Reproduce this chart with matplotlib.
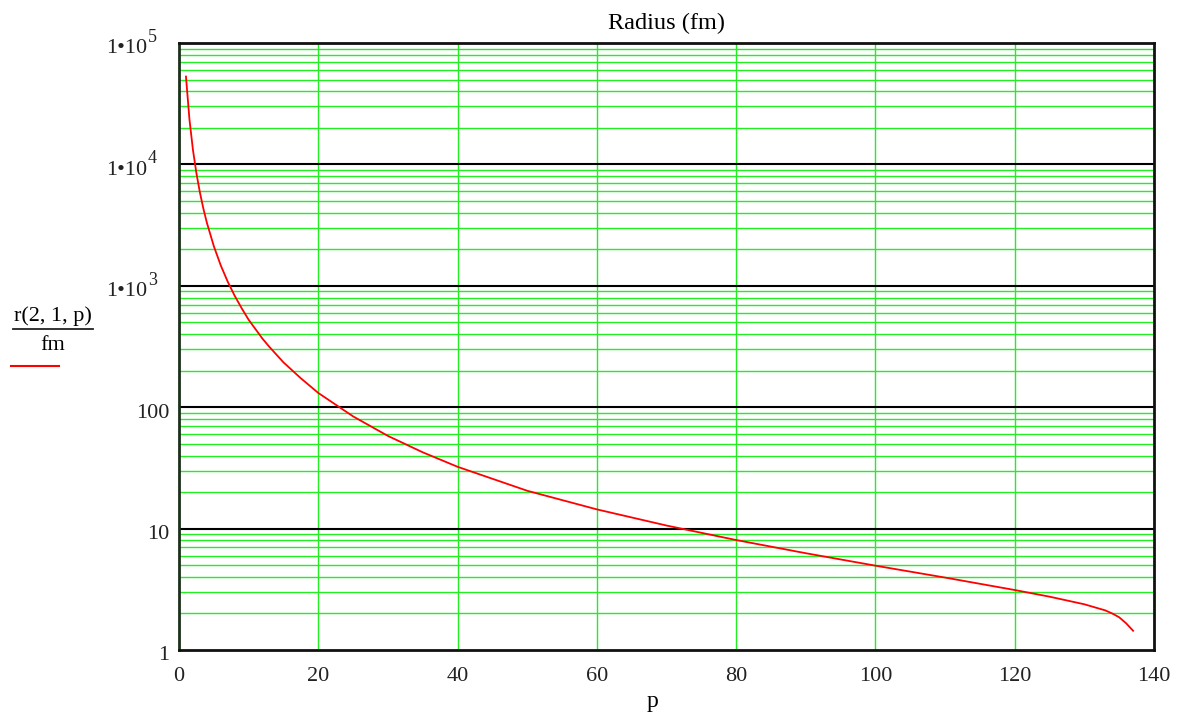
import numpy as np
import matplotlib.pyplot as plt
from matplotlib.ticker import FixedLocator, LogLocator, NullFormatter
from matplotlib.transforms import offset_copy

plt.rcParams['font.family'] = ['Liberation Serif', 'DejaVu Serif']

# values
p = [1, 1.5, 2, 2.5, 3, 3.5, 4, 5, 6, 7, 8, 9, 10, 12, 13, 15, 17.5, 20, 25,
     30, 35, 40, 50, 60, 70, 80, 90, 100, 110, 120, 125, 130, 133, 134,
     135, 136, 137]
r = [52900, 23500, 13200, 8460, 5880, 4320, 3310, 2120, 1470, 1080, 827,
     653, 525, 366, 313, 234, 173, 131, 84, 58, 42.5, 32.3, 20.5, 14.4,
     10.6, 8.05, 6.27, 4.95, 3.95, 3.12, 2.75, 2.38, 2.12, 2.0, 1.86, 1.66,
     1.44]

x_ticks = [0, 20, 40, 60, 80, 100, 120, 140]
y_ticks = [1, 10, 100, 1e3, 1e4, 1e5]
y_base = ['1', '10', '100', '1•10', '1•10', '1•10']
y_exp = ['', '', '', '3', '4', '5']

fig = plt.figure(figsize=(11.89, 7.15), dpi=100)
ax = fig.add_axes([179 / 1189, 1 - 650 / 715, (1154 - 179) / 1189, (650 - 43) / 715])

ax.set_yscale('log')
ax.set_xlim(0, 140)
ax.set_ylim(1, 1e5)

# grid: green verticals + minor horizontals, black decade lines
for xv in x_ticks[1:-1]:
    ax.axvline(xv, color='#22ee22', lw=1.0, zorder=1)
for dec in range(5):
    for m in range(2, 10):
        ax.axhline(m * 10 ** dec, color='#22ee22', lw=1.0, zorder=1)
for yv in y_ticks[1:-1]:
    ax.axhline(yv, color='black', lw=1.5, zorder=2)

ax.plot(p, r, color='red', lw=1.3, zorder=3)

ax.xaxis.set_major_locator(FixedLocator(x_ticks))
ax.yaxis.set_major_locator(FixedLocator(y_ticks))
ax.yaxis.set_minor_locator(LogLocator(subs='auto'))
ax.yaxis.set_minor_formatter(NullFormatter())
ax.set_yticklabels([])
ax.tick_params(axis='both', which='both', length=0, labelsize=16, colors='#222222')
ax.tick_params(axis='x', pad=12)

# y tick labels drawn by hand (Mathcad style 1•10^n)
ytr = ax.get_yaxis_transform()
base_tr = offset_copy(ytr, fig=fig, x=0, y=-10.5, units='dots')
exp_tr = offset_copy(ytr, fig=fig, x=0, y=1, units='dots')
for yv, b, e in zip(y_ticks, y_base, y_exp):
    if e:
        ax.text(-(179 - 147) / 975, yv, b, transform=base_tr, ha='right',
                va='baseline', fontsize=16, color='#222222')
        ax.text(-(179 - 148) / 975, yv, e, transform=exp_tr, ha='left',
                va='baseline', fontsize=13, color='#222222')
    else:
        ax.text(-(179 - 169) / 975, yv, b, transform=base_tr, ha='right',
                va='baseline', fontsize=16, color='#222222')

for s in ax.spines.values():
    s.set_linewidth(2)
    s.set_color('#111111')
ax.spines['left'].set_color('#1a301a')

fig.text(666 / 1189, 1 - 23 / 715, 'Radius (fm)', ha='center', va='center', fontsize=17.5)
fig.text(652 / 1189, 1 - 702 / 715, 'p', ha='center', va='center', fontsize=17)

# stacked y-label with legend line
fig.text(53 / 1189, 1 - 316 / 715, 'r(2, 1, p)', ha='center', va='center', fontsize=16)
fig.text(53 / 1189, 1 - 346 / 715, 'fm', ha='center', va='center', fontsize=16)
fig.add_artist(plt.Line2D([13 / 1189, 93 / 1189], [1 - 329 / 715] * 2,
                          color='#222222', lw=1.3, transform=fig.transFigure))
fig.add_artist(plt.Line2D([11 / 1189, 59 / 1189], [1 - 366 / 715] * 2,
                          color='red', lw=1.5, transform=fig.transFigure))

fig.savefig('out.png', dpi=100)
